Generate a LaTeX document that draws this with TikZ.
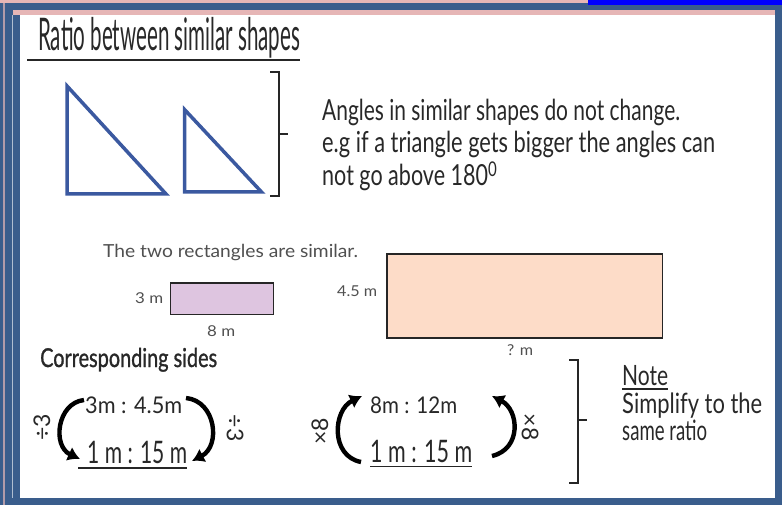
\documentclass[tikz,border=0pt]{standalone}
\usepackage{fontspec}
\usepackage{graphicx}
\setmainfont{Lato}
\newfontfamily\hand{Lato}
\newfontfamily\hwbold{Lato}[FakeBold=1.2]
\usetikzlibrary{arrows.meta}
\definecolor{frameblue}{RGB}{58,93,140}
\definecolor{framepink}{RGB}{230,182,182}
\definecolor{brightblue}{RGB}{0,0,255}
\definecolor{triblue}{RGB}{59,89,160}
\definecolor{lav}{RGB}{222,197,224}
\definecolor{peach}{RGB}{253,220,200}
\definecolor{hwtext}{RGB}{40,40,40}
\definecolor{sanstext}{RGB}{80,80,80}
\newcommand\fitw[2]{\resizebox{#1}{\height}{#2}}
\tikzset{
  hw/.style={inner sep=0pt, anchor=base west, text=hwtext},
  sans/.style={inner sep=0pt, anchor=base west, text=sanstext},
  tri/.style={draw=triblue, line width=3.5pt, line join=miter},
  brack/.style={draw=black!85, line width=1.6pt},
  rect/.style={draw=black!85, line width=1.8pt},
  curv/.style={draw=black, line width=4.4pt, -{Latex[length=12pt,width=15pt]}},
  uline/.style={draw=black!85, line width=1.6pt}
}
\begin{document}
\begin{tikzpicture}[x=1pt,y=-1pt]
\useasboundingbox (0,0) rectangle (782,505);
% frame
\fill[frameblue] (0,0) rectangle (782,505);
\fill[framepink] (0,0) rectangle (588,3);
\fill[brightblue] (588,0) rectangle (782,5);
\fill[framepink!70!frameblue] (3,3) rectangle (5,505);
\fill[framepink] (13,10) rectangle (775,15);
\fill[white!60!frameblue] (12,15) rectangle (13,498);
\fill[white] (20,15) rectangle (775,498);

% title
\node[hw] (title) at (38,51) {\fitw{262pt}{\hand\fontsize{45}{50}\selectfont Ratio between similar shapes}};
\coordinate (tl) at (27,60);
\coordinate (tr) at (300,60);
\draw[uline, line width=2pt] (tl) -- (tr);

% triangles
\coordinate (A1) at (67,86);
\coordinate (A2) at (67,194);
\coordinate (A3) at (166,194);
\draw[tri] (A1) -- (A2) -- (A3) -- cycle;
\coordinate (B1) at (184.5,109.5);
\coordinate (B2) at (184.5,192);
\coordinate (B3) at (261.5,192);
\draw[tri] (B1) -- (B2) -- (B3) -- cycle;

% top bracket
\coordinate (k1) at (270,72);
\coordinate (k2) at (279,72);
\coordinate (k3) at (279,196);
\coordinate (k4) at (270,196);
\coordinate (km) at (279,134);
\coordinate (kt) at (288,134);
\draw[brack] (k1) -- (k2) -- (k3) -- (k4);
\draw[brack] (km) -- (kt);

% angles text
\node[hw] (ang1) at (322,121) {\fitw{358pt}{\hand\fontsize{29}{32}\selectfont Angles in similar shapes do not change.}};
\node[hw] (ang2) at (322,153) {\fitw{393pt}{\hand\fontsize{29}{32}\selectfont e.g if a triangle gets bigger the angles can}};
\node[hw] (ang3) at (322,186) {\fitw{175pt}{\hand\fontsize{29}{32}\selectfont not go above 180\textsuperscript{0}}};

% rectangles
\node[sans] (rtxt) at (103,258) {\fitw{255pt}{\fontsize{18}{20}\selectfont The two rectangles are similar.}};
\node[rect, fill=lav, inner sep=0pt, minimum width=103pt, minimum height=31.5pt, anchor=north west] (small) at (169.5,282) {};
\node[sans] (s3) at (135,304) {\fitw{28pt}{\fontsize{15}{16}\selectfont 3 m}};
\node[sans] (s8) at (207,336) {\fitw{28pt}{\fontsize{15}{16}\selectfont 8 m}};
\node[rect, fill=peach, inner sep=0pt, minimum width=275.5pt, minimum height=84pt, anchor=north west] (big) at (386,253) {};
\node[sans] (b45) at (337,297) {\fitw{40pt}{\fontsize{15}{16}\selectfont 4.5 m}};
\node[sans] (bq) at (507,355) {\fitw{26pt}{\fontsize{15}{16}\selectfont ? m}};

% corresponding sides
\node[hw] (corr) at (40,367) {\fitw{177pt}{\hwbold\fontsize{26}{28}\selectfont Corresponding sides}};

% left ratio
\node[hw] (l1) at (85,413) {\fitw{97pt}{\hand\fontsize{23}{26}\selectfont 3m : 4.5m}};
\node[hw] (l2) at (87,463) {\fitw{100pt}{\hand\fontsize{31}{34}\selectfont 1 m : 15 m}};
\coordinate (lu1) at (78,467.5);
\coordinate (lu2) at (187,467.5);
\draw[uline, line width=2pt] (lu1) -- (lu2);
\coordinate (la1) at (84,400);
\coordinate (la2) at (80,459);
\draw[curv] (la1) .. controls (57,403) and (52,446) .. (la2);
\coordinate (lb1) at (186,398);
\coordinate (lb2) at (192,461);
\draw[curv] (lb1) .. controls (216,401) and (221,446) .. (lb2);
\node[hw, anchor=center, rotate=90] (ld1) at (42,427) {\hand\fontsize{23}{24}\selectfont ÷3};
\node[hw, anchor=center, rotate=-90] (ld2) at (235,428) {\hand\fontsize{23}{24}\selectfont ÷3};

% middle ratio
\node[hw] (m1) at (370,413) {\fitw{87pt}{\hand\fontsize{23}{26}\selectfont 8m : 12m}};
\node[hw] (m2) at (370,462) {\fitw{102pt}{\hand\fontsize{31}{34}\selectfont 1 m : 15 m}};
\coordinate (mu1) at (370,466.5);
\coordinate (mu2) at (472,466.5);
\draw[uline, line width=1.6pt] (mu1) -- (mu2);
\coordinate (ma1) at (361,462);
\coordinate (ma2) at (362,396);
\draw[curv] (ma1) .. controls (330,456) and (333,410) .. (ma2);
\coordinate (mb1) at (492,456);
\coordinate (mb2) at (492,396);
\draw[curv] (mb1) .. controls (522,449) and (519,410) .. (mb2);
\node[hw, anchor=center, rotate=90] (mx1) at (320,431) {\hand\fontsize{23}{24}\selectfont ×8};
\node[hw, anchor=center, rotate=-90] (mx2) at (530,427) {\hand\fontsize{23}{24}\selectfont ×8};

% bottom bracket
\coordinate (q1) at (569,360);
\coordinate (q2) at (578,360);
\coordinate (q3) at (578,483);
\coordinate (q4) at (569,483);
\coordinate (qm) at (578,420);
\coordinate (qt) at (587,420);
\draw[brack] (q1) -- (q2) -- (q3) -- (q4);
\draw[brack] (qm) -- (qt);

% note
\node[hw] (note) at (622,385) {\fitw{46pt}{\hand\fontsize{28}{32}\selectfont Note}};
\coordinate (nu1) at (622,389);
\coordinate (nu2) at (668,389);
\draw[uline, line width=1.4pt] (nu1) -- (nu2);
\node[hw] (n2) at (622,413) {\fitw{140pt}{\hand\fontsize{28}{32}\selectfont Simplify to the}};
\node[hw] (n3) at (622,440) {\fitw{85pt}{\hand\fontsize{28}{32}\selectfont same ratio}};
\end{tikzpicture}
\end{document}
